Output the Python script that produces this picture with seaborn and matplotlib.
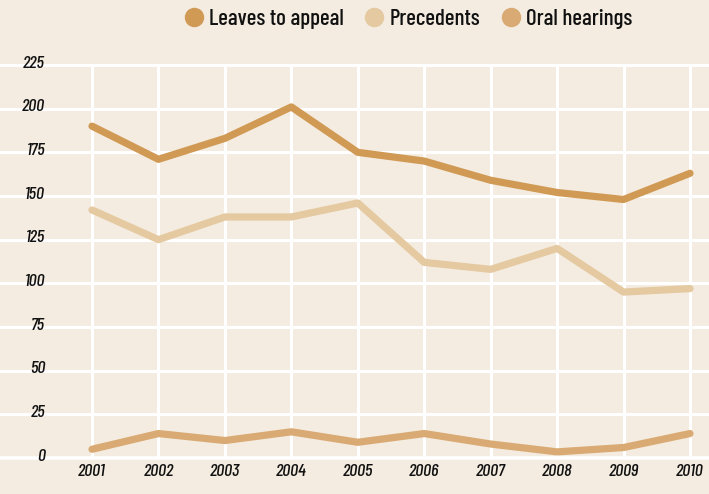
import pandas as pd

import matplotlib
matplotlib.use('AGG')
import matplotlib.pyplot as plt
from matplotlib.lines import Line2D
import seaborn as sns

sns.set_theme(style="white", rc={
        "axes.facecolor": "#f4ece0",
        "figure.facecolor": "#f4ece0",
        'axes.spines.left': False,
        'axes.spines.right': False,
        'axes.spines.top': False,
        'axes.spines.bottom': False})
plt.rcParams['font.family'] = ['Barlow Condensed', 'Roboto Condensed', 'DejaVu Sans']

# data
years = [2001, 2002, 2003, 2004, 2005, 2006, 2007, 2008, 2009, 2010]
leaves = [190, 171, 183, 201, 175, 170, 159, 152, 148, 163]
precedents = [142, 125, 138, 138, 146, 112, 108, 120, 95, 97]
oral = [5, 14, 10, 15, 9, 14, 8, 3.5, 6, 14]
series_names = ['Leaves to appeal', 'Precedents', 'Oral hearings']
colors = ['#d09a55', '#e4c9a1', '#d9aa73']
yticks = [0, 25, 50, 75, 100, 125, 150, 175, 200, 225]

df = pd.DataFrame({
    'year': years * 3,
    'value': leaves + precedents + oral,
    'series': [s for s in series_names for _ in years],
})

fig = plt.figure(figsize=(7.09, 4.94), dpi=100)
ax = fig.add_axes([0, 36 / 494, 1, 408 / 494])

# grid
for t in yticks:
    ax.axhline(t, color='white', lw=2.2 if t else 2.6, zorder=1, clip_on=False)
ax.vlines(years, 0, 225, color='white', lw=2.2, zorder=1)

sns.lineplot(data=df, x='year', y='value', hue='series', hue_order=series_names,
             palette=colors, lw=5.2, ax=ax, legend=False, zorder=3)
for ln in ax.get_lines():
    ln.set_clip_on(False)
    ln.set_solid_capstyle('round')

ax.set_xlim(2001 - 92 / 66.44, 2010 + 19 / 66.44)
ax.set_ylim(0, 225 + 15 / 1.747)
ax.set_xticks(years)
ax.set_xticklabels([str(y) for y in years], fontsize=13, style='italic',
                   weight='medium', color='#111111')
ax.tick_params(axis='x', length=0, pad=4)
ax.set_yticks([])
ax.set_xlabel('')
ax.set_ylabel('')

for t in yticks:
    ax.text(45 / 709, t + 1, str(t), transform=ax.get_yaxis_transform(), ha='right', va='center',
            fontsize=13, style='italic', weight='medium', color='#111111', zorder=2)

handles = [Line2D([], [], marker='o', ls='', markersize=13, color=c) for c in colors]
fig.legend(handles, series_names, loc='center', bbox_to_anchor=(406 / 709, 1 - 19 / 494),
           ncol=3, frameon=False, prop={'size': 16.5, 'weight': 'medium'},
           labelcolor='#111111', handletextpad=0.05, columnspacing=0.75, handlelength=1.2)

fig.savefig('out.png', dpi=100)
